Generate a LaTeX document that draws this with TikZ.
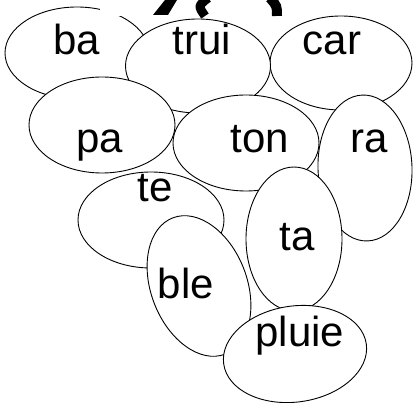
\documentclass[tikz,border=0pt]{standalone}
\usepackage{fontspec}
\setmainfont{Liberation Sans}
\usetikzlibrary{shapes.geometric}

\tikzset{
  grape/.style={ellipse, draw, fill=white, line width=0.9pt, inner sep=0pt},
  syl/.style={anchor=base, inner sep=0pt, font=\fontsize{42}{50}\selectfont},
  stem/.style={line width=9pt, line cap=butt}
}

\begin{document}
\begin{tikzpicture}[x=1pt, y=-1pt]
  \useasboundingbox (0,0) rectangle (413,403);

  \node[grape, minimum width=144pt, minimum height=92pt] (ba) at (77,53) {};
  \node[syl] (ba-t) at (77,55) {ba};

  % stem at the top
  \fill[white] (100,0) rectangle (260,16);
  \fill (165,0) -- (177,0) -- (168,15) -- (153,15) -- cycle;
  \draw[stem] (208,-2) .. controls (198,6) .. (205,16);
  \draw[stem, line width=10pt] (270,-2) .. controls (277,6) .. (277,16);

  \node[grape, minimum width=142pt, minimum height=94pt] (car) at (341,63) {};
  \node[syl] (car-t) at (332,55) {car};

  \node[grape, minimum width=145pt, minimum height=94pt] (trui) at (198,66) {};
  \node[syl] (trui-t) at (202,55) {trui};

  \node[grape, minimum width=146pt, minimum height=96pt] (pa) at (102,125) {};
  \node[syl] (pa-t) at (100,153) {pa};

  \node[grape, minimum width=146pt, minimum height=96pt] (ton) at (246,143) {};
  \node[syl] (ton-t) at (260,153) {ton};

  \node[grape, minimum width=94pt, minimum height=146pt, rotate=2] (ra) at (365,168) {};
  \node[syl] (ra-t) at (369,153) {ra};

  \node[grape, minimum width=146pt, minimum height=96pt] (te) at (151,220) {};
  \node[syl] (te-t) at (155,202) {te};

  \node[grape, minimum width=96pt, minimum height=144pt] (ta) at (294,239) {};
  \node[syl] (ta-t) at (297,251) {ta};

  \node[grape, minimum width=96pt, minimum height=146pt, rotate=21] (ble) at (199,286) {};
  \node[syl] (ble-t) at (186,299) {ble};

  \node[grape, minimum width=144pt, minimum height=96pt, rotate=8] (pluie) at (295,354) {};
  \node[syl] (pluie-t) at (300,347) {pluie};
\end{tikzpicture}
\end{document}
